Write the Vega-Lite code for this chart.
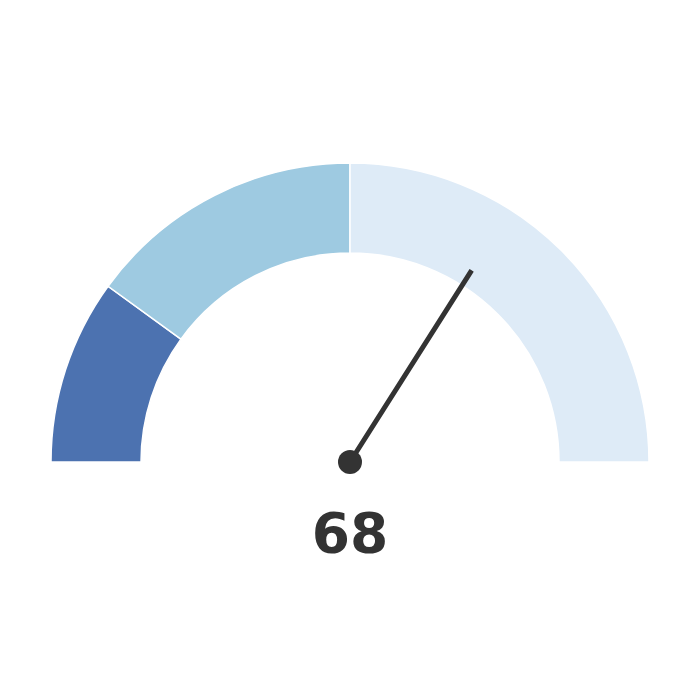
{
  "$schema": "https://vega.github.io/schema/vega-lite/v6.json",
  "description": "Gauge",
  "width": 700,
  "height": 476,
  "autosize": "none",
  "padding": {"top": 224, "bottom": 0, "left": 0, "right": 0},
  "background": "white",
  "config": {"view": {"stroke": null}},
  "layer": [
    {
      "data": {"values": [
        {"band": "low", "start": 0, "end": 20},
        {"band": "mid", "start": 20, "end": 50},
        {"band": "high", "start": 50, "end": 100}
      ]},
      "mark": {"type": "arc", "radius": 299, "radius2": 209, "stroke": "white", "strokeWidth": 1.5},
      "encoding": {
        "theta": {"field": "start", "type": "quantitative", "stack": null,
          "scale": {"domain": [0, 100], "range": [-1.5708, 1.5708]}},
        "theta2": {"field": "end"},
        "color": {"field": "band", "type": "nominal", "legend": null,
          "scale": {"domain": ["low", "mid", "high"], "range": ["#4c72b0", "#9ecae1", "#deebf7"]}}
      }
    },
    {
      "data": {"values": [{"value": 68}]},
      "layer": [
        {
          "mark": {"type": "arc", "radius": 227, "radius2": 0, "stroke": "#333333", "strokeWidth": 5, "fill": "#333333"},
          "encoding": {
            "theta": {"field": "value", "type": "quantitative", "stack": null,
              "scale": {"domain": [0, 100], "range": [-1.5708, 1.5708]}},
            "theta2": {"field": "value"}
          }
        },
        {
          "mark": {"type": "arc", "radius": 12, "theta": 0, "theta2": 6.2832, "fill": "#333333"},
          "encoding": {}
        },
        {
          "mark": {"type": "text", "font": "DejaVu Sans", "fontWeight": "bold", "fontSize": 55,
            "color": "#333333", "baseline": "middle", "align": "center", "dy": 73},
          "encoding": {"text": {"field": "value", "type": "quantitative"}}
        }
      ]
    }
  ]
}
